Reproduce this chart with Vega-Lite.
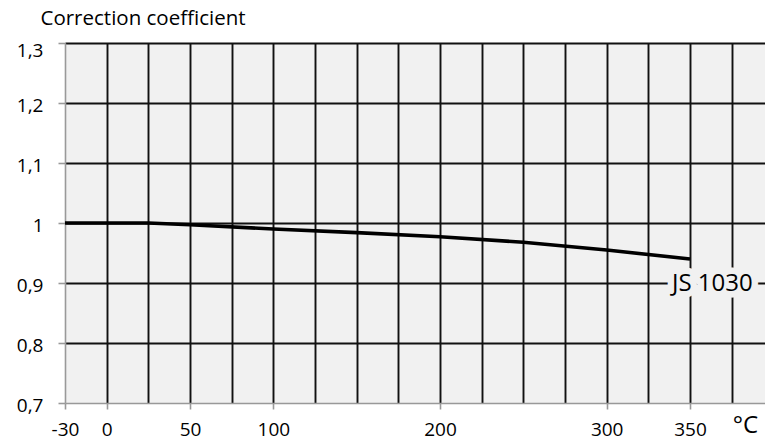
{
  "$schema": "https://vega.github.io/schema/vega-lite/v6.json",
  "width": 700,
  "height": 360,
  "autosize": {"type": "none"},
  "padding": {"left": 65, "top": 43, "right": 0, "bottom": 40},
  "background": "white",
  "config": {
    "view": {"fill": "#f1f1f1", "stroke": null},
    "font": "Open Sans"
  },
  "datasets": {
    "curve": [
      {"t": -30, "k": 1.0},
      {"t": 25, "k": 1.0},
      {"t": 50, "k": 0.997},
      {"t": 100, "k": 0.99},
      {"t": 150, "k": 0.984},
      {"t": 200, "k": 0.977},
      {"t": 250, "k": 0.968},
      {"t": 300, "k": 0.955},
      {"t": 350, "k": 0.94}
    ],
    "labels": [
      {"t": 350, "k": 0.9, "label": "JS 1030"}
    ]
  },
  "resolve": {"axis": {"x": "independent", "y": "independent"}},
  "layer": [
    {
      "data": {"name": "curve"},
      "mark": {"type": "line", "opacity": 0},
      "encoding": {
        "x": {
          "field": "t", "type": "quantitative",
          "scale": {"type": "linear", "domain": [-30, 0, 395], "range": [0, 41.7, 700], "nice": false, "zero": false},
          "axis": {
            "orient": "top",
            "values": [0, 25, 50, 75, 100, 125, 150, 175, 200, 225, 250, 275, 300, 325, 350, 375],
            "grid": true, "gridColor": "#111111", "gridWidth": 1.9,
            "labels": false, "ticks": false, "domain": false, "title": null
          }
        },
        "y": {
          "field": "k", "type": "quantitative",
          "scale": {"domain": [0.7, 1.3], "nice": false, "zero": false},
          "axis": {
            "orient": "right",
            "values": [0.8, 0.9, 1.0, 1.1, 1.2, 1.3],
            "grid": true, "gridColor": "#111111", "gridWidth": 1.9,
            "labels": false, "ticks": false, "domain": false, "title": null
          }
        }
      }
    },
    {
      "data": {"name": "curve"},
      "mark": {"type": "line", "color": "black", "strokeWidth": 3.6},
      "encoding": {
        "x": {
          "field": "t", "type": "quantitative",
          "scale": {"type": "linear", "domain": [-30, 0, 395], "range": [0, 41.7, 700], "nice": false, "zero": false},
          "axis": {
            "orient": "bottom",
            "values": [-30, 0, 50, 100, 200, 300, 350],
            "labelExpr": "'' + datum.value",
            "grid": false,
            "domainColor": "#999999", "domainWidth": 1.6,
            "tickColor": "#999999", "tickWidth": 1.6, "tickSize": 6,
            "labelFontSize": 19, "labelColor": "black", "labelPadding": 11,
            "labelFlush": false, "labelOverlap": false,
            "title": "°C", "titleFontSize": 24, "titleFontWeight": "normal", "titleColor": "black",
            "titleX": 680, "titleY": 29, "titleBaseline": "alphabetic", "titleAlign": "center"
          }
        },
        "y": {
          "field": "k", "type": "quantitative",
          "scale": {"domain": [0.7, 1.3], "nice": false, "zero": false},
          "axis": {
            "orient": "left",
            "values": [0.7, 0.8, 0.9, 1.0, 1.1, 1.2, 1.3],
            "labelExpr": "replace(format(datum.value, '.1~f'), '.', ',')",
            "grid": false,
            "domainColor": "#999999", "domainWidth": 1.6,
            "tickColor": "#999999", "tickWidth": 1.6, "tickSize": 7,
            "labelFontSize": 19, "labelColor": "black", "labelPadding": 15,
            "labelOffset": {"condition": {"test": "datum.value > 1.25", "value": 7}, "value": 2},
            "labelFlush": false, "labelOverlap": false,
            "title": "Correction coefficient", "titleAngle": 0, "titleFontSize": 20.5,
            "titleFontWeight": "normal", "titleColor": "black",
            "titleAlign": "left", "titleBaseline": "alphabetic",
            "titleX": -25, "titleY": -19
          }
        }
      }
    },
    {
      "data": {"name": "labels"},
      "mark": {"type": "text", "align": "left", "baseline": "middle", "dx": -18, "dy": 1, "fontSize": 24,
               "fill": "#f1f1f1", "stroke": "#f1f1f1", "strokeWidth": 13, "strokeJoin": "round"},
      "encoding": {
        "x": {"field": "t", "type": "quantitative", "scale": {"type": "linear", "domain": [-30, 0, 395], "range": [0, 41.7, 700], "nice": false, "zero": false}, "axis": null},
        "y": {"field": "k", "type": "quantitative", "scale": {"domain": [0.7, 1.3], "nice": false, "zero": false}, "axis": null},
        "text": {"field": "label"}
      }
    },
    {
      "data": {"name": "labels"},
      "mark": {"type": "text", "align": "left", "baseline": "middle", "dx": -18, "dy": 1, "fontSize": 24, "color": "black"},
      "encoding": {
        "x": {"field": "t", "type": "quantitative", "scale": {"type": "linear", "domain": [-30, 0, 395], "range": [0, 41.7, 700], "nice": false, "zero": false}, "axis": null},
        "y": {"field": "k", "type": "quantitative", "scale": {"domain": [0.7, 1.3], "nice": false, "zero": false}, "axis": null},
        "text": {"field": "label"}
      }
    }
  ]
}
